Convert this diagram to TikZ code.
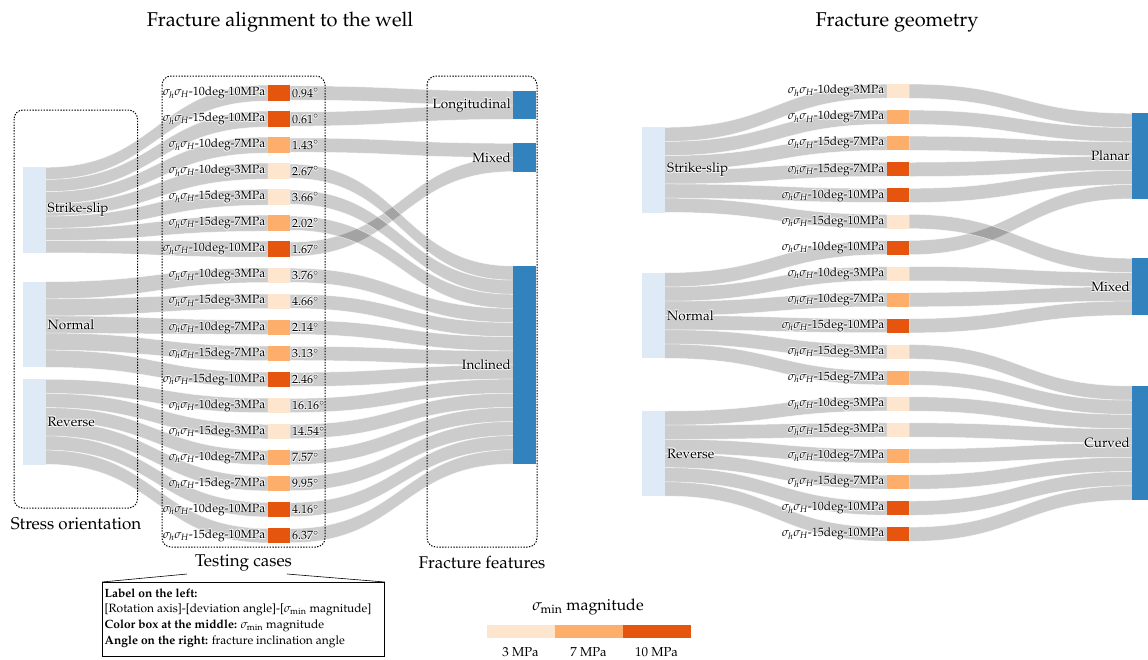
\documentclass[tikz,border=0pt]{standalone}
\usepackage[T1]{fontenc}
\usepackage{mathpazo}

\definecolor{cLow}{HTML}{FEE6CE}
\definecolor{cMid}{HTML}{FDAE6B}
\definecolor{cHigh}{HTML}{E6550D}
\definecolor{nodeBlue}{HTML}{3182BD}
\definecolor{srcBlue}{HTML}{DEEBF7}

% text with a thin white halo, so it reads on top of the flows
\newcommand{\halo}[1]{\leavevmode
  \rlap{\color{white}\kern0.7pt\raisebox{0.7pt}{#1}}%
  \rlap{\color{white}\kern-0.7pt\raisebox{0.7pt}{#1}}%
  \rlap{\color{white}\kern0.7pt\raisebox{-0.7pt}{#1}}%
  \rlap{\color{white}\kern-0.7pt\raisebox{-0.7pt}{#1}}#1}
\newcommand{\caselab}[2]{$\sigma_h\sigma_H$-#1deg-#2MPa}

% a flow band from x=#1 (top #2, bottom #3) to x=#4 (top #5, bottom #6)
\newcommand{\band}[6]{%
  \pgfmathsetmacro\fMid{(#1+#4)/2}%
  \path[flow] (#1,#2) .. controls (\fMid,#2) and (\fMid,#5) .. (#4,#5)
    -- (#4,#6) .. controls (\fMid,#6) and (\fMid,#3) .. (#1,#3) -- cycle;}
% stacked in the source node, centred on the target box
% #1 x0, #2 x1, #3 source top, #4 width at source, #5 index, #6 target centre, #7 width at target
\newcommand{\flowin}[7]{%
  \pgfmathsetmacro\fPa{#3+#4*#5}\pgfmathsetmacro\fPb{\fPa+#4}%
  \pgfmathsetmacro\fQa{#6-#7/2}\pgfmathsetmacro\fQb{#6+#7/2}%
  \band{#1}{\fPa}{\fPb}{#2}{\fQa}{\fQb}}
% centred on the source box, stacked in the target node
% #1 x0, #2 x1, #3 source centre, #4 width, #5 target top, #6 index
\newcommand{\flowout}[6]{%
  \pgfmathsetmacro\fPa{#3-#4/2}\pgfmathsetmacro\fPb{#3+#4/2}%
  \pgfmathsetmacro\fQa{#5+#4*#6}\pgfmathsetmacro\fQb{\fQa+#4}%
  \band{#1}{\fPa}{\fPb}{#2}{\fQa}{\fQb}}

\begin{document}
\begin{tikzpicture}[x=1pt,y=-1pt,
  flow/.style={fill=black, fill opacity=0.2, draw=white, draw opacity=0.7, line width=0.5pt},
  srcnode/.style={fill=srcBlue, inner sep=0pt, outer sep=0pt, minimum width=22.8pt, minimum height=85.4pt, anchor=north west},
  tgtnode/.style={fill=nodeBlue, inner sep=0pt, outer sep=0pt, minimum width=22.4pt, anchor=north west},
  casebox/.style={inner sep=0pt, outer sep=0pt, minimum width=22pt, anchor=west},
  lab/.style={font=\fontsize{12}{14}\selectfont, inner sep=0pt},
  ticklab/.style={font=\fontsize{13}{15}\selectfont, inner sep=0pt},
  grouplab/.style={font=\fontsize{13.5}{15}\selectfont, inner sep=0pt},
  caption/.style={font=\fontsize{17}{19}\selectfont, inner sep=0pt},
  heading/.style={font=\fontsize{20}{22}\selectfont, inner sep=0pt},
  dotbox/.style={dash pattern=on 1.4pt off 1.4pt, line width=1pt, rounded corners=9pt},
  legtext/.style={font=\fontsize{12}{14}\selectfont, inner sep=0pt, anchor=west},
  barcell/.style={inner sep=0pt, outer sep=0pt, minimum width=68pt, minimum height=13.3pt, anchor=north west}
]
\useasboundingbox (0,0) rectangle (1148,659);

% ---------------- Fracture alignment to the well ----------------
% flows: stress orientation -> testing cases
\foreach \k in {0,...,6}{\pgfmathsetmacro\yc{93+26.04*\k}\flowin{45.5}{268}{167.3}{12.21}{\k}{\yc}{16}}
\foreach \k in {0,...,4}{\pgfmathsetmacro\yc{93+26.04*(7+\k)}\flowin{45.5}{268}{281.7}{17.12}{\k}{\yc}{14.5}}
\foreach \k in {0,...,5}{\pgfmathsetmacro\yc{93+26.04*(12+\k)}\flowin{45.5}{268}{379.3}{14.17}{\k}{\yc}{14.5}}
% flows: testing cases -> fracture features
\foreach \i/\t/\k in {1/91/0,2/91/1,3/143.3/0,7/143.3/1,4/266/0,5/266/1,6/266/2,
    8/266/3,9/266/4,10/266/5,11/266/6,12/266/7,13/266/8,14/266/9,15/266/10,
    16/266/11,17/266/12,18/266/13}{%
  \pgfmathsetmacro\yc{93+26.04*(\i-1)}\flowout{290}{513.3}{\yc}{14.14}{\t}{\k}}

% stress orientation nodes
\node[srcnode] (ssA) at (22.7,167.3) {};
\node[srcnode] (nfA) at (22.7,281.7) {};
\node[srcnode] (rfA) at (22.7,379.3) {};
\node[grouplab, anchor=west] (ssAl) at (47.5,210) {\halo{Strike-slip}};
\node[grouplab, anchor=west] (nfAl) at (47.5,324.5) {\halo{Normal}};
\node[grouplab, anchor=west] (rfAl) at (47.5,421.8) {\halo{Reverse}};

% fracture feature nodes
\node[tgtnode, minimum height=28.3pt] (lonA) at (513.3,91) {};
\node[tgtnode, minimum height=28.4pt] (mixA) at (513.3,143.3) {};
\node[tgtnode, minimum height=198pt] (incA) at (513.3,266) {};
\node[grouplab, anchor=east] (lonAl) at (511,105.2) {\halo{Longitudinal}};
\node[grouplab, anchor=east] (mixAl) at (511,157.5) {\halo{Mixed}};
\node[grouplab, anchor=east] (incAl) at (511,365) {\halo{Inclined}};

% testing cases: label, colour box, inclination angle
\foreach \i/\c/\d/\m/\a in {1/cHigh/10/10/0.94, 2/cHigh/15/10/0.61, 3/cMid/10/7/1.43,
    4/cLow/10/3/2.67, 5/cLow/15/3/3.66, 6/cMid/15/7/2.02, 7/cHigh/10/10/1.67,
    8/cLow/10/3/3.76, 9/cLow/15/3/4.66, 10/cMid/10/7/2.14, 11/cMid/15/7/3.13,
    12/cHigh/15/10/2.46, 13/cLow/10/3/16.16, 14/cLow/15/3/14.54, 15/cMid/10/7/7.57,
    16/cMid/15/7/9.95, 17/cHigh/10/10/4.16, 18/cHigh/15/10/6.37}{%
  \pgfmathsetmacro\yc{93+26.04*(\i-1)}%
  \pgfmathsetmacro\bh{\i<8 ? 16 : 14.5}%
  \node[casebox, fill=\c, minimum height=\bh pt] (caseA\i) at (268,\yc) {};
  \node[lab, anchor=east] (caseAl\i) at (265.5,\yc) {\halo{\caselab{\d}{\m}}};
  \node[lab, anchor=west] (angA\i) at (292,\yc) {\halo{\a$^{\circ}$}};
}

% group frames and their captions
\draw[dotbox] (14,110) rectangle (137.5,508);
\draw[dotbox] (162,76) rectangle (325,547);
\draw[dotbox] (427,76) rectangle (537,547);
\node[caption] (capSO) at (76,524) {Stress orientation};
\node[caption] (capTC) at (243.5,563) {Testing cases};
\node[caption] (capFF) at (482,563) {Fracture features};
\node[heading] (headA) at (280,22) {Fracture alignment to the well};

% explanation of the case labels
\node[draw, line width=0.8pt, inner sep=0pt, minimum width=282pt, minimum height=74pt, anchor=north west] (leg) at (102,582) {};
\coordinate (calL) at (187,574);
\coordinate (calR) at (287,574);
\draw[line width=0.6pt] (calL) -- (leg.north west);
\draw[line width=0.6pt] (calR) -- (leg.north east);
\node[legtext] (leg1) at (104.5,593.5) {\textbf{Label on the left:}};
\node[legtext] (leg2) at (104.5,610) {[Rotation axis]-[deviation angle]-[$\sigma_{\min}$ magnitude]};
\node[legtext] (leg3) at (104.5,626) {\textbf{Color box at the middle:} $\sigma_{\min}$ magnitude};
\node[legtext] (leg4) at (104.5,642) {\textbf{Angle on the right:} fracture inclination angle};

% colour scale of sigma_min
\node[font=\fontsize{16}{18}\selectfont, inner sep=0pt] (barT) at (588,607) {$\sigma_{\min}$ magnitude};
\node[barcell, fill=cLow] (bar1) at (486.7,625) {};
\node[barcell, fill=cMid] (bar2) at (554.7,625) {};
\node[barcell, fill=cHigh] (bar3) at (622.7,625) {};
\node[ticklab] (bar1l) at (520.5,652) {3 MPa};
\node[ticklab] (bar2l) at (588.5,652) {7 MPa};
\node[ticklab] (bar3l) at (656.5,652) {10 MPa};

% ---------------- Fracture geometry ----------------
% flows: stress orientation -> testing cases
\foreach \k in {0,...,5}{\pgfmathsetmacro\yc{91.2+26.06*\k}\flowin{664.3}{887}{127.3}{14.17}{\k}{\yc}{14}}
\foreach \k in {0,...,5}{\pgfmathsetmacro\yc{91.2+26.06*(6+\k)}\flowin{664.3}{887}{272.7}{14.27}{\k}{\yc}{14}}
\foreach \k in {0,...,5}{\pgfmathsetmacro\yc{91.2+26.06*(12+\k)}\flowin{664.3}{887}{411}{14.17}{\k}{\yc}{14}}
% flows: testing cases -> fracture geometry
\foreach \i/\t/\k in {1/113.3/0,2/113.3/1,3/113.3/2,4/113.3/3,5/113.3/4,7/113.3/5,
    6/258.3/0,8/258.3/1,9/258.3/2,10/258.3/3,
    11/386/0,12/386/1,13/386/2,14/386/3,15/386/4,16/386/5,17/386/6,18/386/7}{%
  \pgfmathsetmacro\yc{91.2+26.06*(\i-1)}\flowout{909}{1132.3}{\yc}{14.25}{\t}{\k}}

\node[srcnode] (ssB) at (642,127.3) {};
\node[srcnode] (nfB) at (642,272.7) {};
\node[srcnode] (rfB) at (642,411) {};
\node[grouplab, anchor=west] (ssBl) at (667,169.8) {\halo{Strike-slip}};
\node[grouplab, anchor=west] (nfBl) at (667,315.5) {\halo{Normal}};
\node[grouplab, anchor=west] (rfBl) at (667,453.5) {\halo{Reverse}};

\node[tgtnode, minimum width=15.7pt, minimum height=85.7pt] (plaB) at (1132.3,113.3) {};
\node[tgtnode, minimum width=15.7pt, minimum height=56.7pt] (mixB) at (1132.3,258.3) {};
\node[tgtnode, minimum width=15.7pt, minimum height=114pt] (curB) at (1132.3,386) {};
\node[grouplab, anchor=east] (plaBl) at (1130,156) {\halo{Planar}};
\node[grouplab, anchor=east] (mixBl) at (1130,286.7) {\halo{Mixed}};
\node[grouplab, anchor=east] (curBl) at (1130,443) {\halo{Curved}};

\foreach \i/\c/\d/\m in {1/cLow/10/3, 2/cMid/10/7, 3/cMid/15/7, 4/cHigh/15/7,
    5/cHigh/10/10, 6/cLow/15/10, 7/cHigh/10/10, 8/cLow/10/3, 9/cMid/10/7,
    10/cHigh/15/10, 11/cLow/15/3, 12/cMid/15/7, 13/cLow/10/3, 14/cLow/15/3,
    15/cMid/10/7, 16/cMid/15/7, 17/cHigh/10/10, 18/cHigh/15/10}{%
  \pgfmathsetmacro\yc{91.2+26.06*(\i-1)}%
  \node[casebox, fill=\c, minimum height=14pt] (caseB\i) at (887,\yc) {};
  \node[lab, anchor=east] (caseBl\i) at (884.5,\yc) {\halo{\caselab{\d}{\m}}};
}
\node[heading] (headB) at (897,22) {Fracture geometry};
\end{tikzpicture}
\end{document}
